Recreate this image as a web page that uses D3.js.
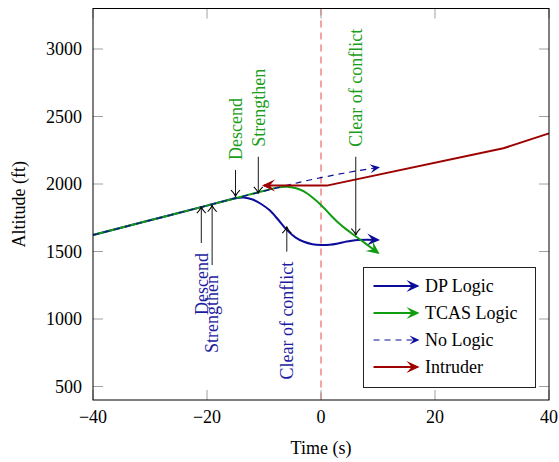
<!DOCTYPE html>
<html>
<head>
<meta charset="utf-8">
<script src="https://cdn.jsdelivr.net/npm/d3@7"></script>
<style>
  body { margin: 0; background: #fff; }
  svg { display: block; font-family: "Liberation Serif", "DejaVu Serif", serif; }
</style>
</head>
<body>
<div id="chart"></div>
<script>
// ownship trajectories (time in s, altitude in ft)
const dpTime = [-40, -30, -20, -15, -13.5, -12, -10.5, -9, -7.5, -6, -4.5, -3, -1.5, 0, 1.5, 3, 4.5, 6, 8, 10];
const dpAlt  = [1622, 1731, 1840, 1895, 1900, 1885, 1852, 1805, 1735, 1660, 1605, 1572, 1554, 1548, 1550, 1560, 1574, 1584, 1587, 1585];

const tcasTime = [-40, -30, -20, -15, -12, -9, -7.5, -6, -4.5, -3, -1.5, 0, 1.5, 3, 4.5, 6, 8, 10];
const tcasAlt  = [1622, 1731, 1840, 1895, 1928, 1960, 1975, 1980, 1970, 1945, 1900, 1845, 1778, 1715, 1662, 1615, 1553, 1490];

const noLogicTime = [-40, -30, -20, -15, -10, -6, -3, 0, 3, 6, 10];
const noLogicAlt  = [1622, 1731, 1840, 1895, 1947, 1990, 2020, 2047, 2072, 2095, 2122];

// intruder, drawn from the right so the arrow points back in time
const intruderTime = [40, 32, 1, -10];
const intruderAlt  = [2375, 2265, 1988, 1988];

// advisories
const tcasNoteLabels = ["Descend", "Strengthen", "Clear of conflict"];
const tcasNoteTime   = [-15, -11, 6.1];
const tcasNoteTip    = [1906, 1931, 1622];
const tcasNoteTail   = [2104, 2202, 2202];

const dpNoteLabels = ["Descend", "Strengthen", "Clear of conflict"];
const dpNoteTime   = [-21, -19.1, -6];
const dpNoteTip    = [1832, 1844, 1684];
const dpNoteTail   = [1563, 1400, 1499];

const xTicks = [-40, -20, 0, 20, 40];
const yTicks = [500, 1000, 1500, 2000, 2500, 3000];
const legendLabels = ["DP Logic", "TCAS Logic", "No Logic", "Intruder"];

const width = 559, height = 462;
const plot = {left: 93, right: 549, top: 8.5, bottom: 400};
const blue = "#0c0c9a", green = "#109c10", red = "#9e0000";
const fontSize = 18;

const svg = d3.select("#chart").append("svg")
    .attr("width", width)
    .attr("height", height);

const x = d3.scaleLinear().domain([-40, 40]).range([plot.left, plot.right]);
const y = d3.scaleLinear().domain([400, 3300]).range([plot.bottom, plot.top]);

// arrow heads
const defs = svg.append("defs");
function stealth(id, color, len, half) {
    defs.append("marker")
        .attr("id", id)
        .attr("markerUnits", "userSpaceOnUse")
        .attr("viewBox", `${-len - 1} ${-half - 1} ${len + 4} ${2 * half + 2}`)
        .attr("markerWidth", len + 4)
        .attr("markerHeight", 2 * half + 2)
        .attr("refX", 0).attr("refY", 0)
        .attr("orient", "auto")
      .append("path")
        .attr("d", `M2,0 L${-len + 2},${-half} L${-len * 0.6 + 2},0 L${-len + 2},${half} Z`)
        .attr("fill", color);
}
stealth("head-blue", blue, 13, 6);
stealth("head-green", green, 13, 6);
stealth("head-red", red, 13, 6);
stealth("head-dash", blue, 10, 4.5);

defs.append("marker")
    .attr("id", "head-note")
    .attr("markerUnits", "userSpaceOnUse")
    .attr("viewBox", "-8 -6 10 12")
    .attr("markerWidth", 10).attr("markerHeight", 12)
    .attr("refX", 0).attr("refY", 0)
    .attr("orient", "auto")
  .append("path")
    .attr("d", "M-6.5,-4.5 Q-2.5,-0.6 0,0 Q-2.5,0.6 -6.5,4.5")
    .attr("fill", "none")
    .attr("stroke", "#000")
    .attr("stroke-width", 1.1);

// vertical marker at t = 0
svg.append("line")
    .attr("x1", x(0)).attr("x2", x(0))
    .attr("y1", plot.top).attr("y2", plot.bottom)
    .attr("stroke", "#f07272")
    .attr("stroke-width", 1.3)
    .attr("stroke-dasharray", "7,5");

// ticks on all four sides, pointing inwards
const tickLen = 10;
const tickG = svg.append("g").attr("stroke", "#a0a0a0").attr("stroke-width", 1);
xTicks.forEach(t => {
    tickG.append("line").attr("x1", x(t)).attr("x2", x(t)).attr("y1", plot.bottom).attr("y2", plot.bottom - tickLen);
    tickG.append("line").attr("x1", x(t)).attr("x2", x(t)).attr("y1", plot.top).attr("y2", plot.top + tickLen);
});
yTicks.forEach(v => {
    tickG.append("line").attr("x1", plot.left).attr("x2", plot.left + tickLen).attr("y1", y(v)).attr("y2", y(v));
    tickG.append("line").attr("x1", plot.right).attr("x2", plot.right - tickLen).attr("y1", y(v)).attr("y2", y(v));
});

// tick labels
svg.append("g").selectAll("text")
    .data(xTicks)
    .enter().append("text")
    .attr("x", d => x(d))
    .attr("y", 423)
    .attr("text-anchor", "middle")
    .attr("font-size", fontSize)
    .text(d => d < 0 ? "\u2212" + Math.abs(d) : d);

svg.append("g").selectAll("text")
    .data(yTicks)
    .enter().append("text")
    .attr("x", 82)
    .attr("y", d => y(d))
    .attr("dy", "0.35em")
    .attr("text-anchor", "end")
    .attr("font-size", fontSize)
    .text(d => d);

svg.append("text")
    .attr("x", (plot.left + plot.right) / 2)
    .attr("y", 454)
    .attr("text-anchor", "middle")
    .attr("font-size", fontSize)
    .text("Time (s)");

svg.append("text")
    .attr("transform", `translate(19,${(plot.top + plot.bottom) / 2}) rotate(-90)`)
    .attr("dy", "0.35em")
    .attr("text-anchor", "middle")
    .attr("font-size", fontSize)
    .text("Altitude (ft)");

// trajectories
const smooth = d3.line().x(d => x(d[0])).y(d => y(d[1])).curve(d3.curveCatmullRom.alpha(0.5));
const straight = d3.line().x(d => x(d[0])).y(d => y(d[1]));

svg.append("path")
    .datum(d3.zip(dpTime, dpAlt))
    .attr("d", smooth)
    .attr("fill", "none")
    .attr("stroke", blue)
    .attr("stroke-width", 2)
    .attr("marker-end", "url(#head-blue)");

svg.append("path")
    .datum(d3.zip(tcasTime, tcasAlt))
    .attr("d", smooth)
    .attr("fill", "none")
    .attr("stroke", green)
    .attr("stroke-width", 2)
    .attr("marker-end", "url(#head-green)");

svg.append("path")
    .datum(d3.zip(noLogicTime, noLogicAlt))
    .attr("d", smooth)
    .attr("fill", "none")
    .attr("stroke", blue)
    .attr("stroke-width", 1.2)
    .attr("stroke-dasharray", "6,5")
    .attr("marker-end", "url(#head-dash)");

svg.append("path")
    .datum(d3.zip(intruderTime, intruderAlt))
    .attr("d", straight)
    .attr("fill", "none")
    .attr("stroke", red)
    .attr("stroke-width", 2)
    .attr("stroke-linejoin", "round")
    .attr("marker-end", "url(#head-red)");

// advisory annotations
function notes(labels, times, tips, tails, color, above) {
    const g = svg.append("g");
    labels.forEach((label, i) => {
        const px = x(times[i]);
        const tail = y(tails[i]);
        g.append("line")
            .attr("x1", px).attr("x2", px)
            .attr("y1", tail).attr("y2", y(tips[i]))
            .attr("stroke", "#000")
            .attr("stroke-width", 0.9)
            .attr("marker-end", "url(#head-note)");
        g.append("text")
            .attr("transform", `translate(${px},${above ? tail - 10 : tail + 10}) rotate(-90)`)
            .attr("dy", "0.35em")
            .attr("text-anchor", above ? "start" : "end")
            .attr("font-size", fontSize)
            .attr("fill", color)
            .text(label);
    });
}
notes(tcasNoteLabels, tcasNoteTime, tcasNoteTip, tcasNoteTail, "#1a9e1a", true);
notes(dpNoteLabels, dpNoteTime, dpNoteTip, dpNoteTail, "#1c1ca0", false);

// frame
svg.append("rect")
    .attr("x", plot.left).attr("y", plot.top)
    .attr("width", plot.right - plot.left)
    .attr("height", plot.bottom - plot.top)
    .attr("fill", "none")
    .attr("stroke", "#000")
    .attr("stroke-width", 1);

// legend
const legend = svg.append("g").attr("transform", "translate(363.5,267.5)");
legend.append("rect")
    .attr("width", 172).attr("height", 120)
    .attr("fill", "#fff")
    .attr("stroke", "#222")
    .attr("stroke-width", 1);

const legendStyles = [
    {color: blue, width: 2, dash: null, head: "head-blue"},
    {color: green, width: 2, dash: null, head: "head-green"},
    {color: blue, width: 1.2, dash: "6,5", head: "head-dash"},
    {color: red, width: 2, dash: null, head: "head-red"}
];
const rows = legend.selectAll(".entry")
    .data(legendLabels)
    .enter().append("g")
    .attr("class", "entry")
    .attr("transform", (d, i) => `translate(0,${18.5 + i * 27})`);
rows.append("line")
    .attr("x1", 10).attr("x2", 54)
    .attr("y1", 0).attr("y2", 0)
    .attr("stroke", (d, i) => legendStyles[i].color)
    .attr("stroke-width", (d, i) => legendStyles[i].width)
    .attr("stroke-dasharray", (d, i) => legendStyles[i].dash)
    .attr("marker-end", (d, i) => `url(#${legendStyles[i].head})`);
rows.append("text")
    .attr("x", 61.5)
    .attr("dy", "0.35em")
    .attr("font-size", fontSize)
    .text(d => d);
</script>
</body>
</html>
